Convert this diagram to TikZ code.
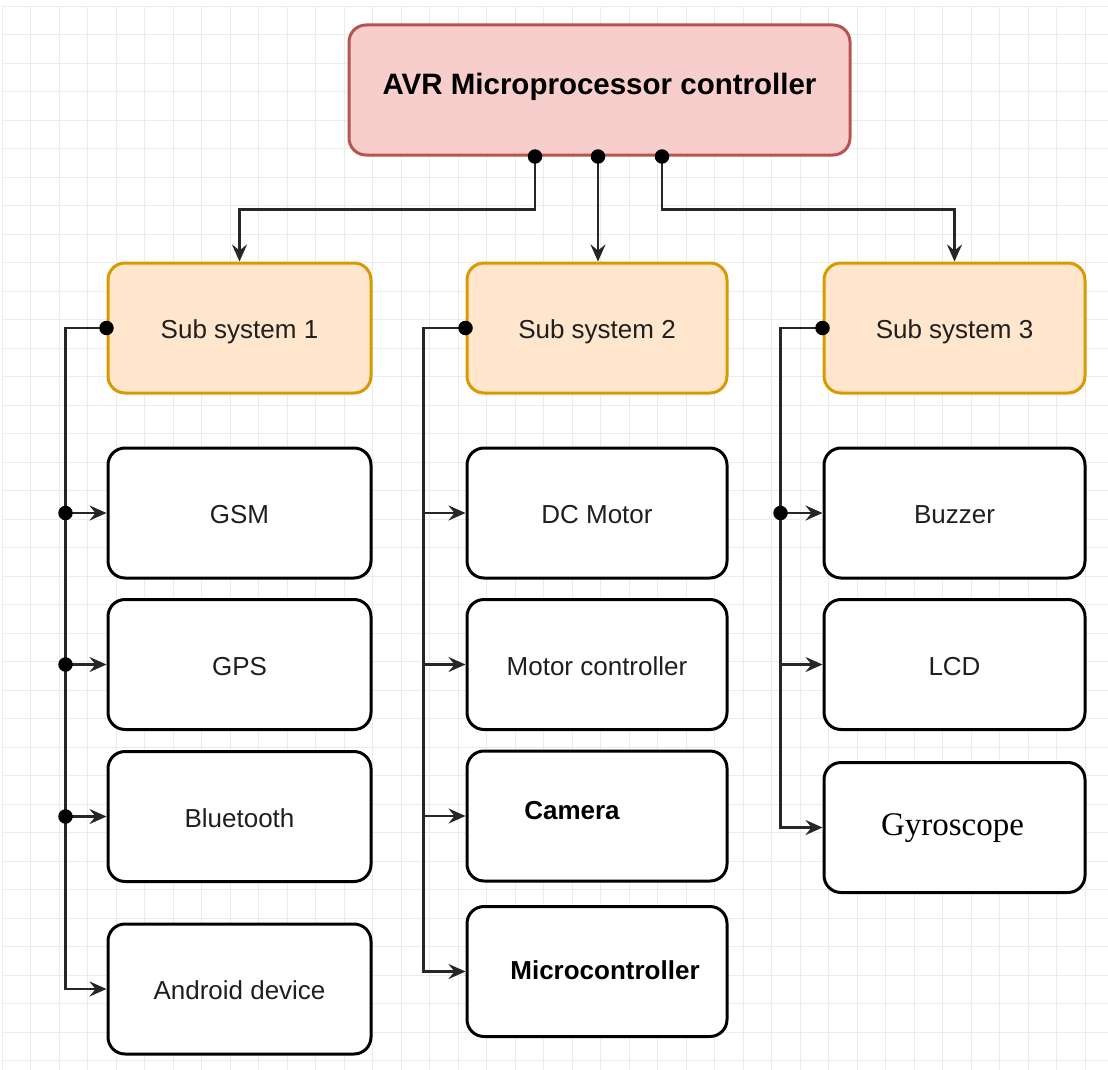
\documentclass[tikz,border=0pt]{standalone}
\usepackage{fontspec}
\setmainfont{Liberation Sans}
\newfontfamily\serifface{Liberation Serif}
\usetikzlibrary{arrows.meta,calc}
\definecolor{topfill}{HTML}{F8CECC}
\definecolor{topline}{HTML}{B85450}
\definecolor{subfill}{HTML}{FFE6CC}
\definecolor{subline}{HTML}{D79B00}
\definecolor{gridc}{HTML}{EBEBEB}
\tikzset{
  box/.style={draw=black, line width=3pt, fill=white, rounded corners=17pt,
    minimum height=130pt, inner sep=0pt, text height=21.6pt, text depth=0pt,
    text=black!88, font=\fontsize{26}{30}\selectfont},
  topbox/.style={box, draw=topline, fill=topfill, minimum width=501pt},
  subbox/.style={box, draw=subline, fill=subfill},
  conn/.style={draw=black!85, line width=2.5pt},
  arr/.style={conn, -{Stealth[length=17pt,width=15pt,inset=6pt]}},
  dot/.style={circle, fill=black, inner sep=0pt, minimum size=14.5pt},
  lbl/.style={inner sep=0pt, font=\fontsize{26}{30}\selectfont}
}
\begin{document}
\begin{tikzpicture}[x=1pt,y=-1pt]
\useasboundingbox (0,0) rectangle (1108,1070);
\fill[white] (0,0) rectangle (1108,1070);
\draw[gridc, line width=0.9pt, step=28.5pt, shift={(2,6)}] (0,0) grid (1106,1064);
% top
\node[topbox] (top) at (599.5,90) {};
\node[lbl, font=\bfseries\fontsize{29.5}{34}\selectfont] (toptxt) at ([yshift=3pt]top.center) {AVR Microprocessor controller};
% sub systems
\node[subbox, minimum width=263pt] (sub1) at (239.5,328) {Sub system 1};
\node[subbox, minimum width=260pt] (sub2) at (597,328) {Sub system 2};
\node[subbox, minimum width=261pt] (sub3) at (954.5,328) {Sub system 3};
% column 1
\node[box, minimum width=263pt] (gsm) at (239.5,513) {GSM};
\node[box, minimum width=263pt] (gps) at (239.5,664.5) {GPS};
\node[box, minimum width=263pt] (bt) at (239.5,816.5) {Bluetooth};
\node[box, minimum width=263pt] (andr) at (239.5,989) {Android device};
% column 2
\node[box, minimum width=260pt] (dcm) at (597,513) {DC Motor};
\node[box, minimum width=260pt] (mctl) at (597,664.5) {Motor controller};
\node[box, minimum width=260pt] (cam) at (597,816) {};
\node[lbl, font=\bfseries\fontsize{26}{30}\selectfont] (camtxt) at ([xshift=-25pt,yshift=5pt]cam.center) {Camera};
\node[box, minimum width=260pt] (mcu) at (597,971.5) {};
\node[lbl, font=\bfseries\fontsize{26}{30}\selectfont] (mcutxt) at ([xshift=8pt,yshift=1pt]mcu.center) {Microcontroller};
% column 3
\node[box, minimum width=261pt] (buz) at (954.5,513) {Buzzer};
\node[box, minimum width=261pt] (lcd) at (954.5,664.5) {LCD};
\node[box, minimum width=261pt] (gyro) at (954.5,827.5) {};
\node[lbl, font=\serifface\fontsize{33}{38}\selectfont] (gyrotxt) at ([xshift=-2pt,yshift=-1pt]gyro.center) {Gyroscope};
% top connectors
\coordinate (s1) at ($(top.south)+(-64.5,0)$);
\coordinate (s2) at ($(top.south)+(-1.5,0)$);
\coordinate (s3) at ($(top.south)+(62.5,0)$);
\draw[arr] (s1) -- ++(0,53) -| (sub1.north);
\draw[arr] (s2) -- (s2 |- sub2.north);
\draw[arr] (s3) -- ++(0,53) -| (sub3.north);
\node[dot] (d1) at (s1) {};
\node[dot] (d2) at (s2) {};
\node[dot] (d3) at (s3) {};
% column 1 bus
\coordinate (b1) at ($(sub1.west)+(-41,0)$);
\draw[arr] (sub1.west) -- (b1) |- (andr.west);
\draw[arr] (gsm.west -| b1) -- (gsm.west);
\draw[arr] (gps.west -| b1) -- (gps.west);
\draw[arr] (bt.west -| b1) -- (bt.west);
\node[dot] (e0) at (sub1.west) {};
\node[dot] (e1) at (gsm.west -| b1) {};
\node[dot] (e2) at (gps.west -| b1) {};
\node[dot] (e3) at (bt.west -| b1) {};
% column 2 bus
\coordinate (b2) at ($(sub2.west)+(-42,0)$);
\draw[arr] (sub2.west) -- (b2) |- (mcu.west);
\draw[arr] (dcm.west -| b2) -- (dcm.west);
\draw[arr] (mctl.west -| b2) -- (mctl.west);
\draw[arr] (cam.west -| b2) -- (cam.west);
\node[dot] (f0) at (sub2.west) {};
% column 3 bus
\coordinate (b3) at ($(sub3.west)+(-42,0)$);
\draw[arr] (sub3.west) -- (b3) |- (gyro.west);
\draw[arr] (buz.west -| b3) -- (buz.west);
\draw[arr] (lcd.west -| b3) -- (lcd.west);
\node[dot] (g0) at (sub3.west) {};
\node[dot] (g1) at (buz.west -| b3) {};
\end{tikzpicture}
\end{document}
